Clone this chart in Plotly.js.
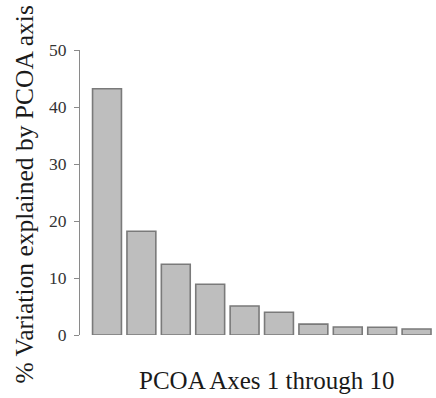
<!DOCTYPE html>
<html>
<head>
<meta charset="utf-8">
<script src="https://cdn.plot.ly/plotly-3.0.1.min.js"></script>
<style>
  html, body { margin: 0; padding: 0; background: #ffffff; }
  #chart { width: 436px; height: 398px; }
</style>
</head>
<body>
<div id="chart"></div>
<script>
// Percentage of variation explained by each of the first ten PCoA axes
const axisNumbers = [1, 2, 3, 4, 5, 6, 7, 8, 9, 10];
const percentExplained = [43.2, 18.2, 12.4, 8.9, 5.1, 4.0, 1.9, 1.4, 1.35, 1.05];
const yTickValues = [0, 10, 20, 30, 40, 50];
const yTickLabels = ["0", "10", "20", "30", "40", "50"];

const serif = "Liberation Serif, Times New Roman, Times, serif";

const trace = {
  type: "bar",
  x: axisNumbers,
  y: percentExplained,
  marker: {
    color: "#bebebe",
    line: { color: "#7a7a7a", width: 1.6 }
  },
  hoverinfo: "x+y"
};

const layout = {
  width: 436,
  height: 398,
  margin: { l: 80, r: 0, t: 50, b: 63 },
  paper_bgcolor: "#ffffff",
  plot_bgcolor: "#ffffff",
  bargap: 0.16,
  showlegend: false,
  font: { family: serif, color: "#222222" },
  xaxis: {
    range: [0.215, 10.565],
    showgrid: false,
    zeroline: false,
    showline: false,
    showticklabels: false,
    ticks: ""
  },
  yaxis: {
    range: [0, 50],
    tickvals: yTickValues,
    ticktext: yTickLabels,
    ticks: "outside",
    ticklen: 5,
    tickwidth: 1,
    tickcolor: "#8a8a8a",
    showline: true,
    linecolor: "#8a8a8a",
    linewidth: 1,
    showgrid: false,
    zeroline: false,
    tickfont: { family: serif, size: 17.5, color: "#333333" },
    ticklabelstandoff: 4
  },
  annotations: [
    {
      text: "% Variation explained by PCOA axis",
      xref: "paper", yref: "paper",
      x: -0.157, y: 0.493,
      xanchor: "center", yanchor: "middle",
      textangle: -90,
      showarrow: false,
      font: { family: serif, size: 25.5, color: "#1a1a1a" }
    },
    {
      text: "PCOA Axes 1 through 10",
      xref: "paper", yref: "paper",
      x: 0.524, y: -0.158,
      xanchor: "center", yanchor: "middle",
      showarrow: false,
      font: { family: serif, size: 25, color: "#1a1a1a" }
    }
  ]
};

Plotly.newPlot("chart", [trace], layout, { displayModeBar: false, staticPlot: true });
</script>
</body>
</html>
